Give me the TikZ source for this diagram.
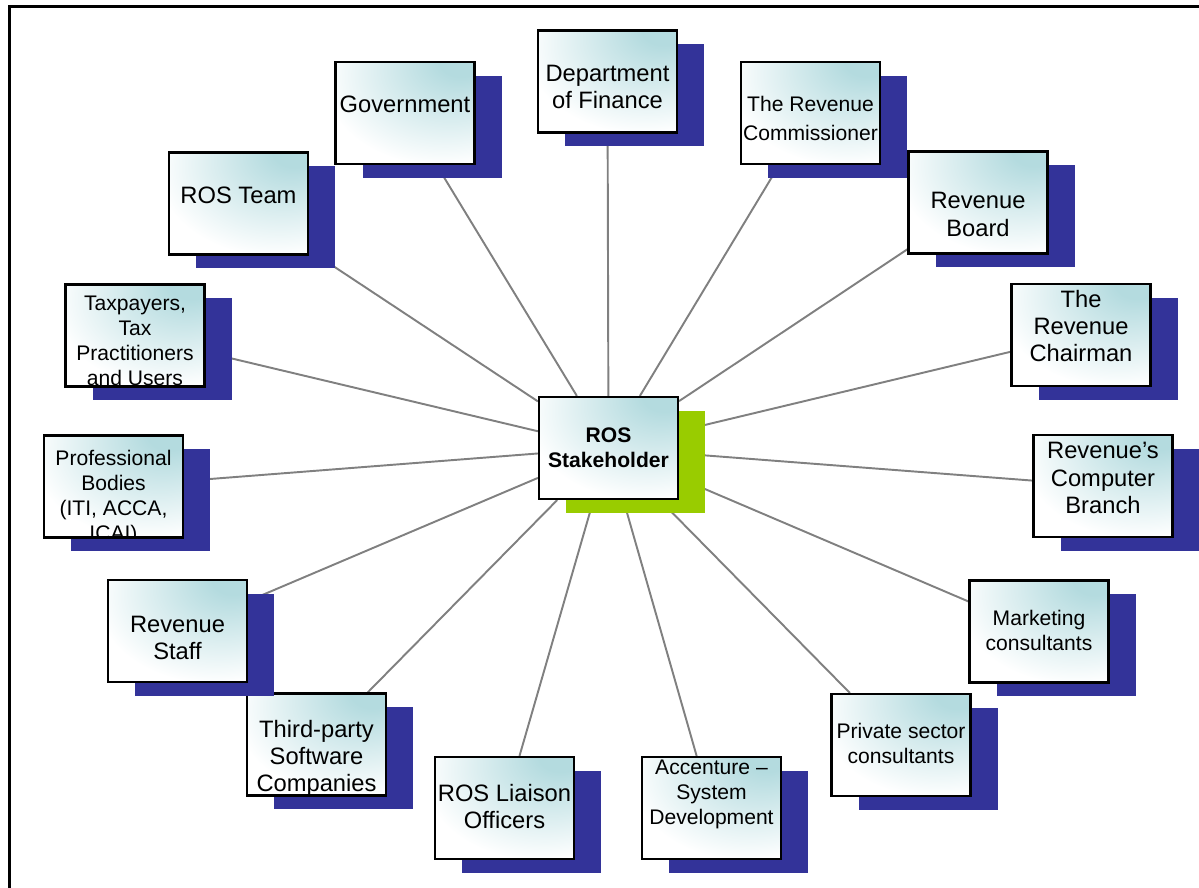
\documentclass[tikz,border=0pt]{standalone}
\usepackage{fontspec}
\setmainfont{Liberation Sans}
\usetikzlibrary{shadows}
\usetikzlibrary{backgrounds}

\definecolor{shadenavy}{RGB}{51,51,153}
\definecolor{hubgreen}{RGB}{153,204,0}
\definecolor{boxteal}{RGB}{180,219,223}
\definecolor{spoke}{RGB}{128,128,128}

\pgfdeclareradialshading{stakeglow}{\pgfpoint{22bp}{28bp}}{%
  color(0bp)=(boxteal); color(8bp)=(boxteal); color(42bp)=(white); color(100bp)=(white)}

\newcommand{\bigtxt}{\fontsize{13.5}{15.4}\selectfont}
\newcommand{\smalltxt}{\fontsize{12}{14.2}\selectfont}
\newcommand{\commtxt}{\fontsize{12}{16.4}\selectfont}

\tikzset{
  stake/.style={draw=black, line width=1.2pt, minimum width=2.78cm, minimum height=2.04cm,
    inner sep=0pt, shading=stakeglow,
    general shadow={fill=#1, shadow xshift=0.54cm, shadow yshift=-0.28cm}},
  stake/.default=shadenavy,
  stake text/.style={align=center, inner sep=0pt},
  spokeline/.style={draw=spoke, line width=1.1pt}
}

\begin{document}
\begin{tikzpicture}
\useasboundingbox (0,0) rectangle (23.98,17.76);
%% frame
\draw [line width=1.4pt] (0.19,-0.2) -- (0.19,17.63) -- (24.2,17.63);
%% hub
\node [stake=hubgreen] (hub) at (12.17,8.80) {};
\node [stake text, font=\smalltxt\bfseries] (hub-t) at (hub) {ROS\\Stakeholder};
%% stakeholders round the hub
\foreach \nm/\x/\y/\dy/\f/\txt in {
  {dof/12.15/16.13/-0.11/\bigtxt/Department\\of Finance},
  {comm/16.21/15.50/-0.11/\commtxt/The Revenue\\Commissioner},
  {gov/8.10/15.50/0.18/\bigtxt/Government},
  {team/4.77/13.69/0.17/\bigtxt/ROS Team},
  {board/19.56/13.71/-0.24/\bigtxt/Revenue\\Board},
  {chair/21.62/11.06/0.18/\bigtxt/The\\Revenue\\Chairman},
  {comp/22.06/8.04/0.16/\bigtxt/Revenue’s\\Computer\\Branch},
  {mark/20.78/5.13/0.02/\smalltxt/Marketing\\consultants},
  {priv/18.02/2.86/0.03/\smalltxt/Private sector\\consultants},
  {acc/14.23/1.60/0.28/\smalltxt/Accenture –\\System\\Development},
  {liais/10.09/1.60/0.03/\bigtxt/ROS Liaison\\Officers},
  {third/6.33/2.87/-0.27/\bigtxt/Third-party\\Software\\Companies},
  {staff/3.55/5.14/-0.13/\bigtxt/Revenue\\Staff},
  {prof/2.27/8.03/-0.22/\smalltxt/Professional\\Bodies\\(ITI, ACCA,\\ICAI)},
  {tax/2.70/11.05/-0.11/\smalltxt/Taxpayers,\\Tax\\Practitioners\\and Users}}
{
  \node [stake] (\nm) at (\x,\y) {};
  \begin{scope}
    \clip ([shift={(0.02,0.02)}]\nm.south west) rectangle ([shift={(-0.02,-0.02)}]\nm.north east);
    \node [stake text, font=\f] (\nm-t) at ([yshift=\dy cm]\nm.center) {\txt};
  \end{scope}
}
%% spokes
\begin{scope}[on background layer]
\foreach \nm in {dof,comm,gov,team,board,chair,comp,mark,priv,acc,liais,third,staff,prof,tax}
  \draw [spokeline] (hub) -- (\nm);
\end{scope}
\end{tikzpicture}
\end{document}
